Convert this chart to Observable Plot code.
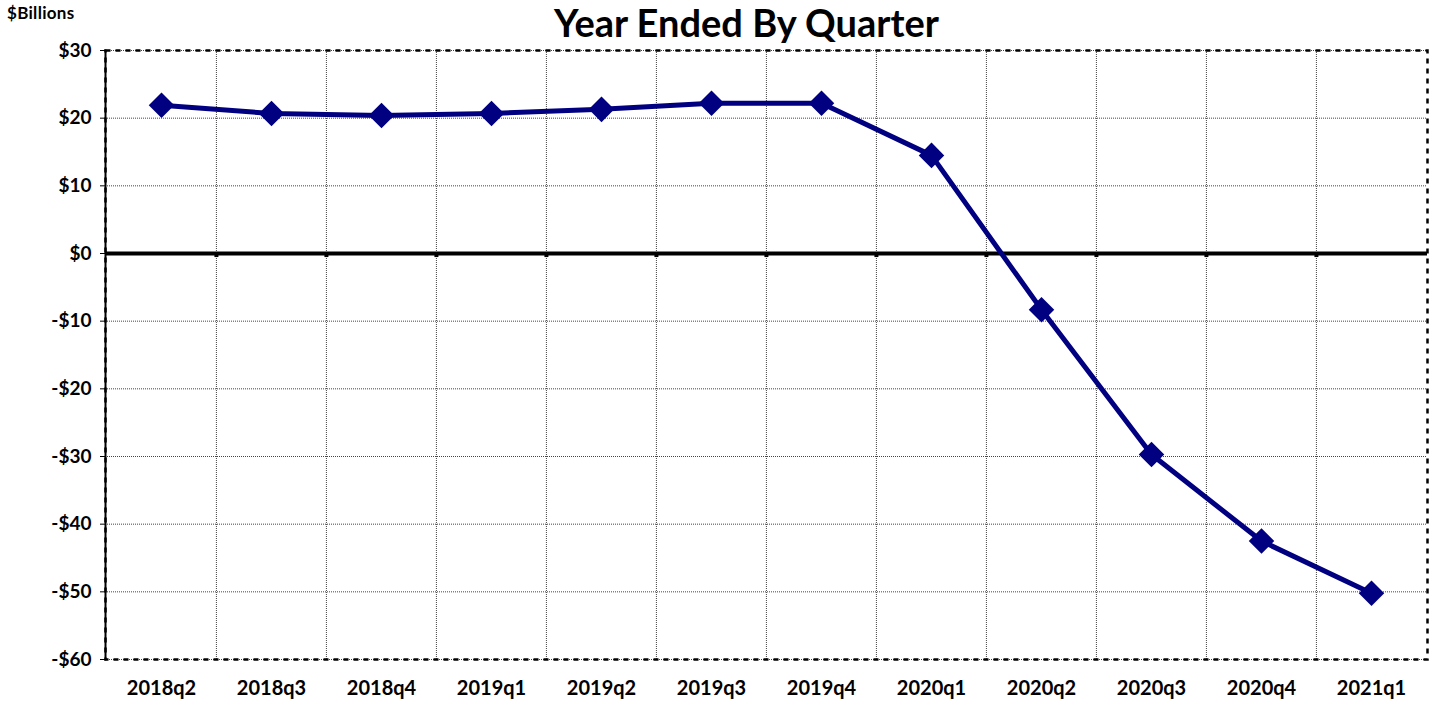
<!DOCTYPE html>
<html><head><meta charset="utf-8">
<script src="https://cdn.jsdelivr.net/npm/d3@7"></script>
<script src="https://cdn.jsdelivr.net/npm/@observablehq/plot@0.6"></script>
<style>
body{margin:0;background:#fff;font-family:Lato,"Open Sans",sans-serif;}
#wrap{position:relative;width:1435px;height:703px;}
#title{position:absolute;left:0;width:1435px;top:-2px;text-align:center;font-size:38px;font-weight:bold;line-height:48px;padding-left:58px;box-sizing:border-box;}
#unit{position:absolute;left:7px;top:2px;font-size:17px;font-weight:bold;letter-spacing:0.3px;}
#chart{position:absolute;left:0;top:0;}
</style></head>
<body>
<div id="wrap"><div id="chart"></div><div id="title">Year Ended By Quarter</div><div id="unit">$Billions</div></div>
<script>
const quarters = ["2018q2","2018q3","2018q4","2019q1","2019q2","2019q3","2019q4","2020q1","2020q2","2020q3","2020q4","2021q1"];
const values = [21.9, 20.7, 20.4, 20.7, 21.3, 22.2, 22.2, 14.5, -8.3, -29.7, -42.5, -50.2];
const yTicks = [30, 20, 10, 0, -10, -20, -30, -40, -50, -60];
const data = quarters.map((q, i) => ({q, v: values[i]}));
const fmt = d => d < 0 ? "-$" + (-d) : "$" + d;

const W = 1435, ML = 105, MR = 8;
const half = (W - ML - MR) / quarters.length / 2; // offset from band centre to band edge
const inner = quarters.slice(1);

const chart = Plot.plot({
  width: W, height: 703,
  marginTop: 50, marginBottom: 44, marginLeft: ML, marginRight: MR,
  style: {fontFamily: "Lato, 'Open Sans', sans-serif", fontWeight: "bold", fontSize: "19px", color: "black", background: "white"},
  x: {type: "band", domain: quarters, padding: 0},
  y: {domain: [-60, 30]},
  marks: [
    Plot.gridY(yTicks, {stroke: "#444", strokeOpacity: 1, strokeDasharray: "1,1", strokeWidth: 1}),
    Plot.ruleX(inner, {x: d => d, dx: -half, stroke: "#444", strokeDasharray: "1,1", strokeWidth: 1}),
    Plot.frame({stroke: "black", strokeWidth: 2.5, strokeDasharray: "5,5"}),
    Plot.frame({anchor: "left", stroke: "black", strokeWidth: 2}),
    Plot.ruleX(inner, {x: d => d, dx: -half, y1: 0, y2: -0.6, stroke: "black", strokeWidth: 4}),
    Plot.ruleY([0], {stroke: "black", strokeWidth: 4}),
    Plot.axisY(yTicks, {tickFormat: fmt, tickSize: 5, tickPadding: 9, fontSize: 19, fontWeight: "bold", label: null}),
    Plot.axisX({tickSize: 0, tickPadding: 21, fontSize: 20, fontWeight: "bold", label: null}),
    Plot.line(data, {x: "q", y: "v", stroke: "#000080", strokeWidth: 5}),
    Plot.dot(data, {x: "q", y: "v", symbol: "diamond2", r: 11.5, fill: "#000080", stroke: "none"})
  ]
});
document.getElementById("chart").append(chart);
</script>
</body></html>
